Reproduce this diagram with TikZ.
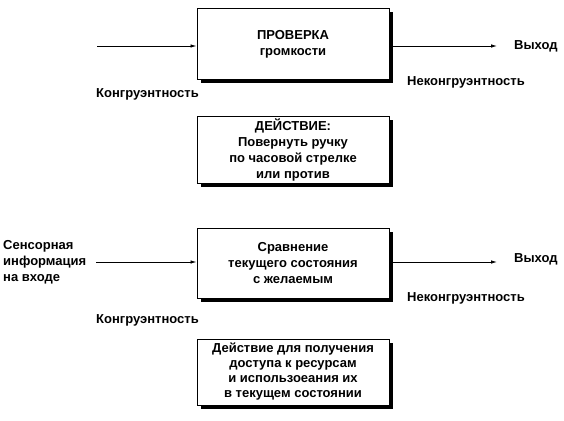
\documentclass[tikz,border=0pt]{standalone}
\usepackage{fontspec}
\setmainfont{Liberation Sans}
\usetikzlibrary{arrows.meta,shadows}
\begin{document}
\begin{tikzpicture}[x=1pt,y=-1pt,font=\fontsize{13}{16}\selectfont\bfseries]
\tikzset{
  blk/.style={draw, line width=1pt, fill=white, minimum width=192pt, align=center, inner sep=0pt,
    drop shadow={shadow xshift=3.5pt, shadow yshift=-3.5pt, fill=black, opacity=1}},
  arr/.style={-{Latex[length=6pt,width=3.5pt]}, line width=0.8pt},
  lbl/.style={anchor=west, inner sep=0pt}
}
\useasboundingbox (0,0) rectangle (564,420);
% boxes
\node[blk, minimum height=70pt] (b1) at (293,44) {ПРОВЕРКА\\громкости};
\node[blk, minimum height=67pt] (b2) at (293,149.5) {ДЕЙСТВИЕ:\\Повернуть ручку\\по часовой стрелке\\или против};
\node[blk, minimum height=70pt] (b3) at (293,263) {Сравнение\\текущего состояния\\с желаемым};
\node[blk, minimum height=66pt, font=\fontsize{13}{15}\selectfont\bfseries] (b4) at (293,372) {Действие для получения\\доступа к ресурсам\\и использоеания их\\в текущем состоянии};
% labels
\coordinate (in1) at (97,46);
\node[lbl] (out1) at (514,46) {Выход};
\node[lbl] (nk1) at (407,82) {Неконгруэнтность};
\node[lbl] (k1) at (96,94) {Конгруэнтность};
\node[lbl, align=left] (sens) at (3,262) {Сенсорная\\информация\\на входе};
\node[lbl] (out3) at (514,259) {Выход};
\node[lbl] (nk3) at (407,298) {Неконгруэнтность};
\node[lbl] (k3) at (96,320) {Конгруэнтность};
% connectors
\draw[arr] (in1) -- (in1 -| b1.west);
\draw[arr] ([xshift=3.5pt]b1.east |- in1) -- ([xshift=-17pt]out1.west |- in1);
\draw[arr] ([xshift=10pt]sens.east) -- (sens.east -| b3.west);
\draw[arr] ([xshift=3.5pt]b3.east |- sens.east) -- ([xshift=-17pt]out3.west |- sens.east);
\end{tikzpicture}
\end{document}
